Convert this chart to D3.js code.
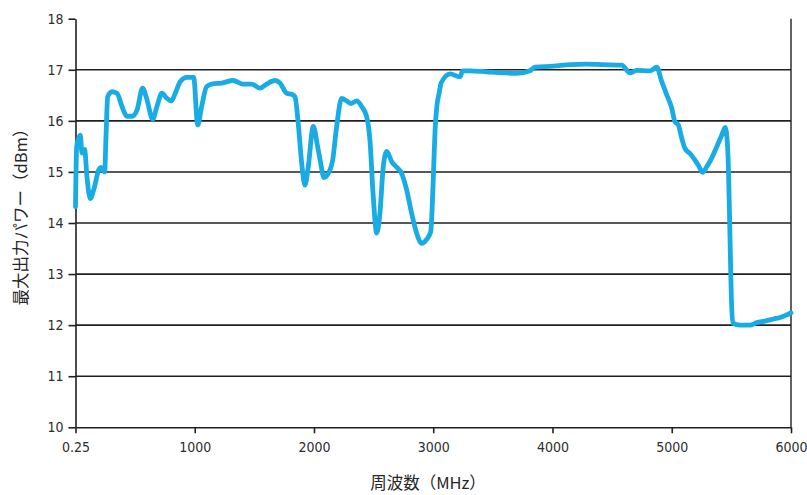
<!DOCTYPE html>
<html>
<head>
<meta charset="utf-8">
<script src="https://cdn.jsdelivr.net/npm/d3@7"></script>
<style>
  html, body { margin: 0; padding: 0; background: #fff; }
  svg { display: block; }
  .tick-label { font-family: "DejaVu Sans Condensed", "Liberation Sans Narrow", "Liberation Sans", sans-serif; font-size: 14px; fill: #2e2e2e; }
  .axis-title { font-family: "Noto Sans CJK JP", "Noto Sans", sans-serif; font-size: 16.5px; fill: #262626; }
</style>
</head>
<body>
<svg id="chart" width="807" height="495"></svg>
<script>
// Frequency sweep (MHz) and measured maximum output power (dBm)
const freqMHz = [
  0.25, 10, 40, 55, 77, 96, 124, 153, 195, 216, 245, 256, 270, 306, 348, 390, 432, 474, 516,
  563, 600, 647, 683, 725, 767, 803, 837, 879, 935, 991, 1025, 1058, 1100, 1142, 1226, 1323,
  1407, 1478, 1547, 1603, 1673, 1715, 1771, 1813, 1841, 1868, 1897, 1924, 1952, 1994, 2031,
  2054, 2084, 2120, 2157, 2190, 2232, 2274, 2308, 2358, 2400, 2442, 2469, 2497, 2526, 2553,
  2581, 2610, 2652, 2694, 2735, 2777, 2819, 2861, 2903, 2945, 2979, 3000, 3015, 3031, 3050,
  3066, 3141, 3224, 3247, 3308, 3448, 3587, 3700, 3811, 3853, 4007, 4147, 4287, 4426, 4580,
  4650, 4706, 4818, 4874, 4916, 4958, 5000, 5027, 5055, 5084, 5111, 5153, 5195, 5223, 5260,
  5293, 5335, 5377, 5419, 5449, 5469, 5511, 5572, 5656, 5712, 5782, 5853, 5922, 6000
];
const powerDBm = [
  14.32, 15.49, 15.72, 15.37, 15.44, 14.91, 14.48, 14.65, 15.04, 15.09, 15.00, 15.69, 16.47, 16.57, 16.54, 16.28, 16.09, 16.09, 16.21,
  16.64, 16.41, 16.03, 16.28, 16.54, 16.44, 16.39, 16.54, 16.77, 16.85, 16.85, 15.92, 16.28, 16.67, 16.72, 16.74, 16.79,
  16.72, 16.72, 16.64, 16.72, 16.79, 16.74, 16.54, 16.52, 16.47, 15.95, 15.17, 14.74, 15.10, 15.89, 15.49,
  15.20, 14.89, 14.97, 15.23, 15.89, 16.44, 16.39, 16.34, 16.39, 16.28, 16.08, 15.63, 14.52, 13.80, 14.19,
  15.10, 15.40, 15.20, 15.09, 14.97, 14.65, 14.19, 13.80, 13.60, 13.68, 13.83, 14.84, 15.80, 16.30, 16.55,
  16.74, 16.92, 16.86, 16.98, 16.98, 16.96, 16.94, 16.93, 16.98, 17.05, 17.07, 17.10, 17.11, 17.10, 17.09,
  16.94, 16.99, 16.98, 17.05, 16.77, 16.51, 16.25, 15.98, 15.92, 15.66, 15.46, 15.36, 15.23, 15.13, 14.99,
  15.10, 15.27, 15.49, 15.72, 15.87, 15.46, 12.04, 12.00, 12.00, 12.05, 12.08, 12.12, 12.16, 12.24
];

const xTickValues = [0.25, 1000, 2000, 3000, 4000, 5000, 6000];
const xTickLabels = ["0.25", "1000", "2000", "3000", "4000", "5000", "6000"];
const yTickValues = [10, 11, 12, 13, 14, 15, 16, 17, 18];
const xTitle = "周波数（MHz）";
const yTitle = "最大出力パワー（dBm）";

const svg = d3.select("#chart");
const plotLeft = 75.5, plotRight = 791, plotTop = 18.7, plotBottom = 427.3;

const x = d3.scaleLinear().domain([0.25, 6000]).range([plotLeft, plotRight]);
const y = d3.scaleLinear().domain([10, 18]).range([plotBottom, plotTop]);

// Horizontal gridlines (11–17)
svg.append("g")
  .selectAll("line")
  .data(yTickValues.filter(v => v > 10 && v < 18))
  .join("line")
  .attr("x1", plotLeft).attr("x2", plotRight)
  .attr("y1", d => y(d)).attr("y2", d => y(d))
  .attr("stroke", "#231f20")
  .attr("stroke-width", 1.6);

// Right border
svg.append("line")
  .attr("x1", plotRight).attr("x2", plotRight)
  .attr("y1", plotTop).attr("y2", plotBottom)
  .attr("stroke", "#231f20").attr("stroke-width", 1.4);

// Left axis
const yAxis = d3.axisLeft(y).tickValues(yTickValues).tickSize(7).tickSizeOuter(0).tickPadding(5).tickFormat(d3.format("d"));
const gy = svg.append("g").attr("transform", `translate(${plotLeft},0)`).call(yAxis);
gy.select(".domain").attr("stroke", "#231f20").attr("stroke-width", 1.6);
gy.selectAll(".tick line").attr("stroke", "#231f20").attr("stroke-width", 1.6);
gy.selectAll(".tick text").attr("class", "tick-label");
gy.attr("font-family", null).attr("font-size", null);

// Bottom axis
const xAxis = d3.axisBottom(x).tickValues(xTickValues).tickSize(6).tickSizeOuter(0).tickPadding(9)
  .tickFormat((d, i) => xTickLabels[i]);
const gx = svg.append("g").attr("transform", `translate(0,${plotBottom})`).call(xAxis);
gx.select(".domain").attr("stroke", "#231f20").attr("stroke-width", 1.6);
gx.selectAll(".tick line").attr("stroke", "#231f20").attr("stroke-width", 1.6);
gx.selectAll(".tick text").attr("class", "tick-label");
gx.attr("font-family", null).attr("font-size", null);

// Power curve
const data = freqMHz.map((f, i) => [f, powerDBm[i]]);
const line = d3.line().x(d => x(d[0])).y(d => y(d[1])).curve(d3.curveMonotoneX);
svg.append("path")
  .datum(data)
  .attr("d", line)
  .attr("fill", "none")
  .attr("stroke", "#19ace4")
  .attr("stroke-width", 4.8)
  .attr("stroke-linejoin", "round")
  .attr("stroke-linecap", "round");

// Axis titles
svg.append("text")
  .attr("class", "axis-title")
  .attr("x", 428)
  .attr("y", 489)
  .attr("text-anchor", "middle")
  .text(xTitle);

svg.append("text")
  .attr("class", "axis-title")
  .attr("transform", `translate(27,213) rotate(-90)`)
  .attr("text-anchor", "middle")
  .text(yTitle);
</script>
</body>
</html>
